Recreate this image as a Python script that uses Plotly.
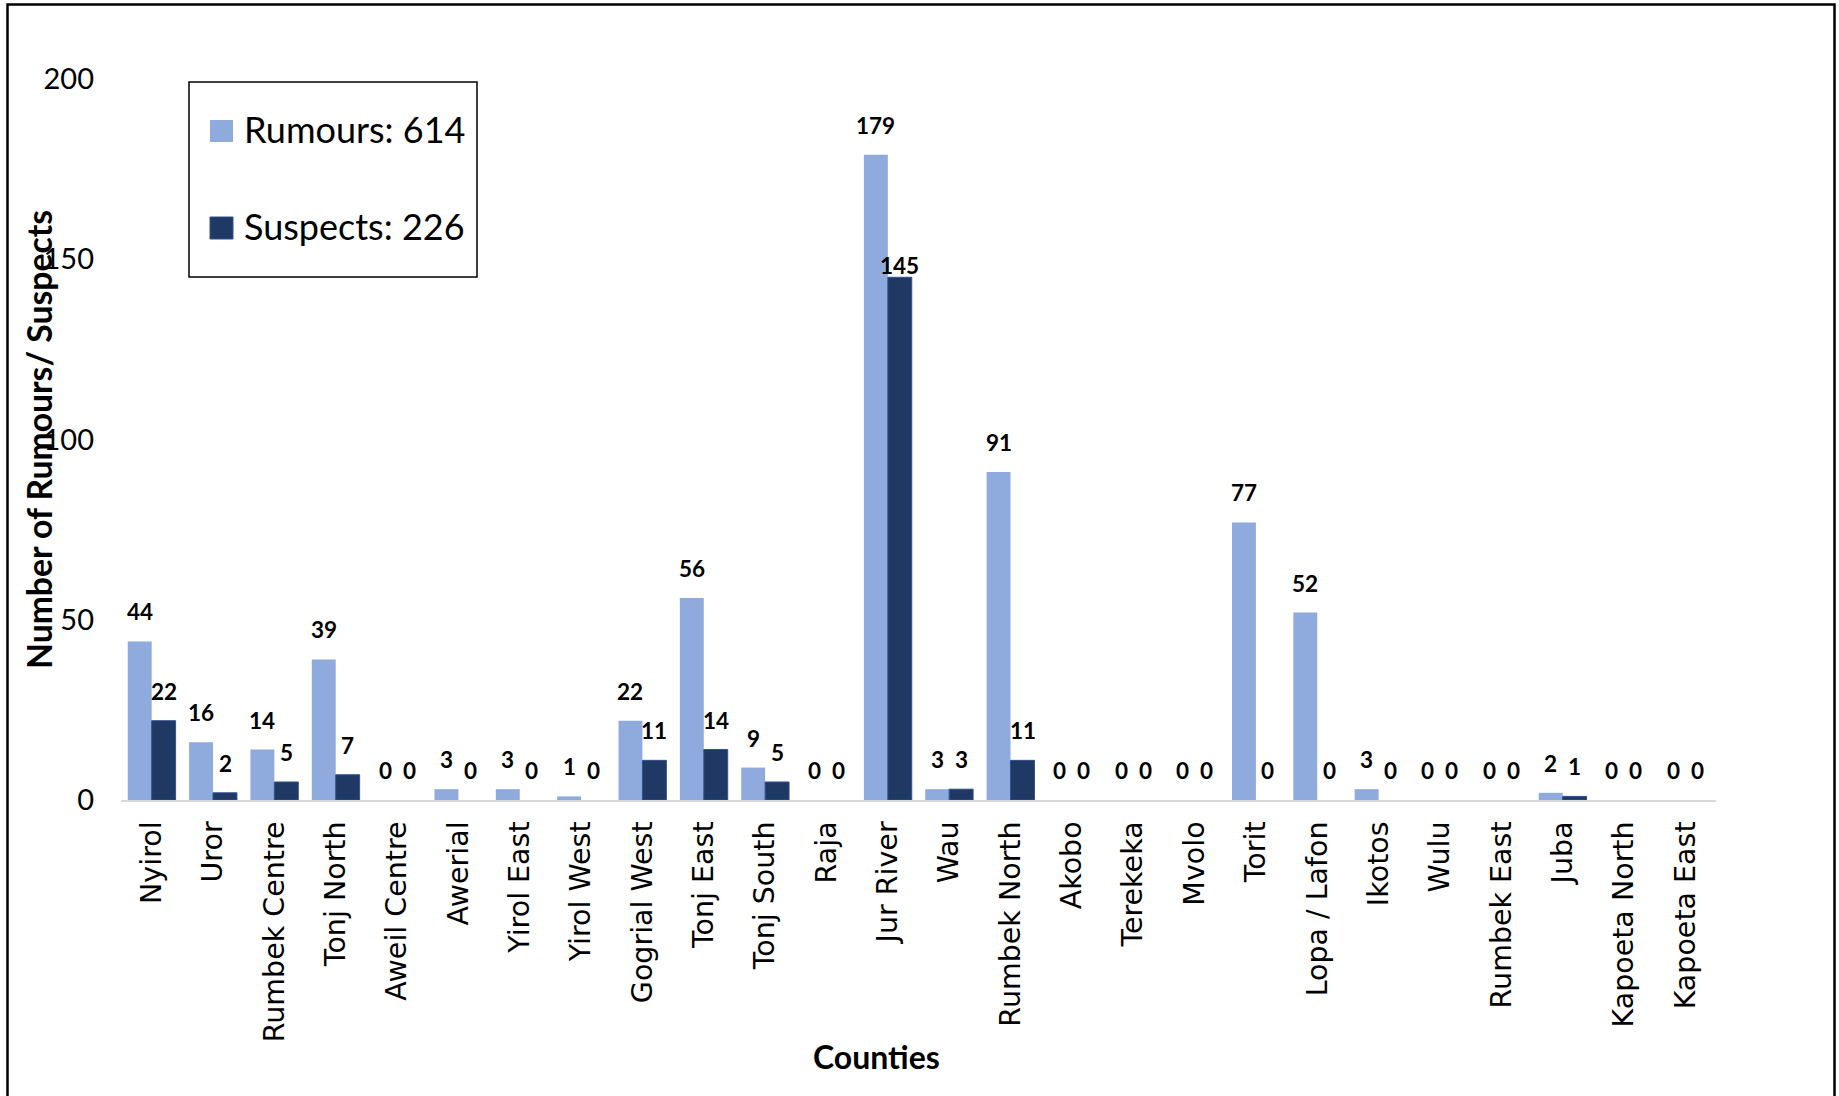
import plotly.graph_objects as go

counties = ["Nyirol", "Uror", "Rumbek Centre", "Tonj North", "Aweil Centre", "Awerial",
            "Yirol East", "Yirol West", "Gogrial West", "Tonj East", "Tonj South", "Raja",
            "Jur River", "Wau", "Rumbek North", "Akobo", "Terekeka", "Mvolo", "Torit",
            "Lopa / Lafon", "Ikotos", "Wulu", "Rumbek East", "Juba", "Kapoeta North",
            "Kapoeta East"]
rumours = [44, 16, 14, 39, 0, 3, 3, 1, 22, 56, 9, 0, 179, 3, 91, 0, 0, 0, 77, 52, 3, 0, 0, 2, 0, 0]
suspects = [22, 2, 5, 7, 0, 0, 0, 0, 11, 14, 5, 0, 145, 3, 11, 0, 0, 0, 0, 0, 0, 0, 0, 1, 0, 0]
series_names = ["Rumours", "Suspects"]
y_ticks = [0, 50, 100, 150, 200]

C_RUM = "#8FAADC"
C_SUS = "#203864"
C_SUS_EDGE = "#2F528F"

W, H = 1839, 1096
L, R, T, B = 121, 123, 79, 296
PW, PH = W - L - R, H - T - B


def px(x):
    return (x - L) / PW


def py(y):
    return (H - B - y) / PH


fig = go.Figure()
fig.add_trace(go.Bar(name=series_names[0], x=counties, y=rumours,
                     marker=dict(color=C_RUM, line=dict(width=0)), showlegend=False))
fig.add_trace(go.Bar(name=series_names[1], x=counties, y=suspects,
                     marker=dict(color=C_SUS,
                                 line=dict(color=C_SUS_EDGE,
                                           width=[1 if v > 0 else 0 for v in suspects])),
                     showlegend=False))

# label placed tight to its bar in the reference (Jur River suspects)
label_yshift_override = {("Suspects", "Jur River"): -4}

annotations = []
for name, vals, shift in ((series_names[0], rumours, -12), (series_names[1], suspects, 12)):
    for c, v in zip(counties, vals):
        annotations.append(dict(x=c, y=v, xref="x", yref="y", text=f"<b>{v}</b>",
                                showarrow=False, xshift=shift,
                                yshift=label_yshift_override.get((name, c), 14),
                                yanchor="bottom", xanchor="center",
                                font=dict(family="Lato", size=22.5, color="black")))

# axis titles
annotations.append(dict(x=px(39), y=py(440), xref="paper", yref="paper",
                        text="<b>Number of Rumours/ Suspects</b>", textangle=-90,
                        showarrow=False, xanchor="center", yanchor="middle",
                        font=dict(family="Lato", size=33.7, color="black")))
annotations.append(dict(x=px(876.5), y=py(1056), xref="paper", yref="paper",
                        text="<b>Counties</b>", showarrow=False,
                        xanchor="center", yanchor="middle",
                        font=dict(family="Lato", size=32, color="black")))

# legend (drawn manually to match the large swatches)
legend_y = [129, 226]
for name, vals, ly in zip(series_names, (rumours, suspects), legend_y):
    annotations.append(dict(x=px(242), y=py(ly), xref="paper", yref="paper",
                            text=f"{name}: {sum(vals)}", showarrow=False,
                            xanchor="left", yanchor="middle",
                            font=dict(family="Lato", size=36, color="black")))

shapes = [
    dict(type="rect", xref="paper", yref="paper", x0=px(189), x1=px(477), y0=py(277), y1=py(82),
         line=dict(color="black", width=1.5), fillcolor="rgba(0,0,0,0)"),
    dict(type="rect", xref="paper", yref="paper", x0=px(210), x1=px(233), y0=py(142), y1=py(120),
         line=dict(width=0), fillcolor=C_RUM),
    dict(type="rect", xref="paper", yref="paper", x0=px(210), x1=px(233), y0=py(239), y1=py(217),
         line=dict(color=C_SUS_EDGE, width=1), fillcolor=C_SUS),
    # outer frame (left, top, right)
    dict(type="path", xref="paper", yref="paper",
         path=f"M {px(7.5)},{py(1100)} L {px(7.5)},{py(4.5)} L {px(1834.5)},{py(4.5)} L {px(1834.5)},{py(1100)}",
         line=dict(color="black", width=2.5)),
]

fig.update_layout(
    width=W, height=H,
    margin=dict(l=L, r=R, t=T, b=B, autoexpand=False),
    paper_bgcolor="white", plot_bgcolor="white",
    barmode="group", bargap=0.22, bargroupgap=0,
    showlegend=False,
    annotations=annotations, shapes=shapes,
    xaxis=dict(type="category", tickangle=-90, showgrid=False,
               showline=True, linecolor="#D9D9D9", linewidth=2,
               ticks="", ticklabelstandoff=8,
               tickfont=dict(family="DejaVu Sans", size=28.5, color="black")),
    yaxis=dict(range=[0, 200], tickvals=y_ticks, showgrid=False, zeroline=False,
               showline=False, ticks="", ticklabelstandoff=26,
               tickfont=dict(family="Lato", size=29, color="black")),
)

fig.write_html("out.html")
